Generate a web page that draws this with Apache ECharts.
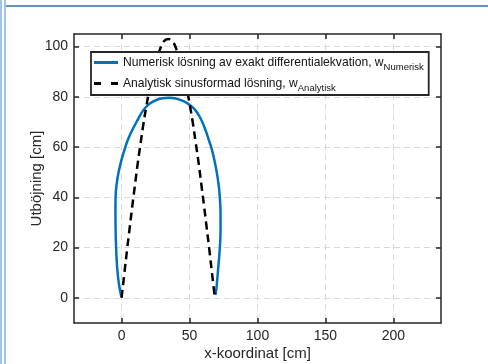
<!DOCTYPE html>
<html>
<head>
<meta charset="utf-8">
<script src="https://cdn.jsdelivr.net/npm/echarts@6/dist/echarts.min.js"></script>
<style>
  html, body { margin: 0; padding: 0; background: #fff; }
  #main { width: 488px; height: 364px; }
</style>
</head>
<body>
<div id="main"></div>
<script>
// numerical solution (x, y), traced left side up, right side down
const numerX = [-0.2, -1.8, -2.9, -3.6, -4.0, -4.4, -4.5, -4.4, -3.7, -2.2, 0, 2, 4.7, 7.8, 11.5, 15.9, 20, 25, 30, 34.8,
                40, 45, 50, 54.4, 58.5, 61.8, 64.4, 66.6, 68.6, 70, 71.4, 72.3, 72.8, 72.8, 72.3, 71.6, 70.8, 70, 69.1];
const numerY = [0.5, 5, 10, 15, 20, 27, 35, 40, 45, 50, 55, 58.7, 63, 66.7, 70.5, 74.6, 77, 78.6, 79.4, 79.6,
                79.3, 78.4, 76.8, 74.6, 71, 66.7, 62.5, 58.7, 54, 50, 45, 40, 33, 27, 20, 15, 10, 5, 1.2];
// analytic sine-shaped solution
const analytX = [0, 2, 4, 6, 8, 10, 12, 14, 16, 18, 20, 22.5, 25, 28, 31, 34.3,
                 37.6, 40.6, 43.6, 46.1, 48.6, 50.6, 52.6, 54.6, 56.6, 58.6, 60.6, 62.6, 64.6, 66.6, 68.6];
const analytY = [0, 9.5, 19, 28, 37, 45.5, 54, 61.5, 69, 75.5, 81.5, 88, 94, 98.5, 102, 103,
                 102, 98.5, 94, 88, 81.5, 75.5, 69, 61.5, 54, 45.5, 37, 28, 19, 9.5, 0];

const xTicks = [0, 50, 100, 150, 200];
const yTicks = [0, 20, 40, 60, 80, 100];
const seriesNames = ['Numerisk lösning av exakt differentialekvation, w', 'Analytisk sinusformad lösning, w'];
const subs = ['Numerisk', 'Analytisk'];

const font = 'Liberation Sans, Arial, Helvetica, sans-serif';
const ink = '#262626';

const zip = (xs, ys) => xs.map((v, i) => [v, ys[i]]);

const chart = echarts.init(document.getElementById('main'));

const xBase = {
  type: 'value', min: -35, max: 235,
  axisLine: { show: true, onZero: false, lineStyle: { color: ink, width: 1.5 } },
  axisTick: { show: true, inside: true, length: 5, customValues: xTicks, lineStyle: { color: ink, width: 1.5 } },
};
const yBase = {
  type: 'value', min: -10, max: 105,
  axisLine: { show: true, onZero: false, lineStyle: { color: ink, width: 1.5 } },
  axisTick: { show: true, inside: true, length: 5, customValues: yTicks, lineStyle: { color: ink, width: 1.5 } },
};

chart.setOption({
  animation: false,
  backgroundColor: '#fff',
  textStyle: { fontFamily: font },
  graphic: [
    { type: 'line', shape: { x1: 1, y1: 0, x2: 1, y2: 364 }, style: { stroke: '#7fb0e0', lineWidth: 1.5 } },
    { type: 'line', shape: { x1: 5, y1: 0, x2: 5, y2: 364 }, style: { stroke: '#7fb0e0', lineWidth: 1.5 } },
    { type: 'line', shape: { x1: 6, y1: 6, x2: 488, y2: 6 }, style: { stroke: '#2f6cb0', lineWidth: 1.5 } }
  ],
  grid: { left: 74, right: 47, top: 34, bottom: 41, outerBoundsMode: 'none', containLabel: false },
  xAxis: [
    Object.assign({}, xBase, {
      position: 'bottom',
      name: 'x-koordinat [cm]', nameLocation: 'middle', nameGap: 23, nameMoveOverlap: false,
      nameTextStyle: { color: ink, fontSize: 15, fontFamily: font },
      axisLabel: { show: true, customValues: xTicks, color: ink, fontSize: 14, margin: 6, fontFamily: font },
      splitLine: { show: true, lineStyle: { color: '#d9d9d9', type: [6, 4], width: 1 } }
    }),
    Object.assign({}, xBase, {
      position: 'top',
      axisLabel: { show: false },
      splitLine: { show: false }
    })
  ],
  yAxis: [
    Object.assign({}, yBase, {
      position: 'left',
      name: 'Utböjning [cm]', nameLocation: 'middle', nameGap: 30, nameMoveOverlap: false,
      nameTextStyle: { color: ink, fontSize: 15, fontFamily: font },
      axisLabel: { show: true, customValues: yTicks, color: ink, fontSize: 14, margin: 6, fontFamily: font },
      splitLine: { show: true, lineStyle: { color: '#d9d9d9', type: [6, 4], width: 1 } }
    }),
    Object.assign({}, yBase, {
      position: 'right',
      axisLabel: { show: false },
      splitLine: { show: false }
    })
  ],
  legend: {
    orient: 'vertical',
    left: 91, top: 52,
    backgroundColor: '#fff',
    borderColor: ink, borderWidth: 1.8, borderRadius: 0,
    padding: [3, 5, 2, 3],
    itemGap: 4,
    itemWidth: 24, itemHeight: 3,
    data: [
      { name: seriesNames[0], icon: 'path://M0,0H24V3H0Z', itemStyle: { color: '#0072BD' } },
      { name: seriesNames[1], icon: 'path://M0,0H7V3H0ZM17,0H24V3H17Z', itemStyle: { color: '#000' } }
    ],
    formatter: name => name + '{s|' + subs[seriesNames.indexOf(name)] + '}',
    textStyle: {
      color: '#111', fontSize: 12.1, fontFamily: font, lineHeight: 15,
      rich: { s: { fontSize: 9.5, fontFamily: font, color: '#111', padding: [9, 0, 0, 0] } }
    }
  },
  series: [
    {
      name: seriesNames[0], type: 'line', smooth: true, showSymbol: false, symbol: 'none',
      data: zip(numerX, numerY),
      lineStyle: { color: '#0072BD', width: 2.5 },
      itemStyle: { color: '#0072BD' }
    },
    {
      name: seriesNames[1], type: 'line', smooth: true, showSymbol: false, symbol: 'none',
      data: zip(analytX, analytY),
      lineStyle: { color: '#000', width: 2.5, type: [8, 5] },
      itemStyle: { color: '#000' }
    }
  ]
});
</script>
</body>
</html>
